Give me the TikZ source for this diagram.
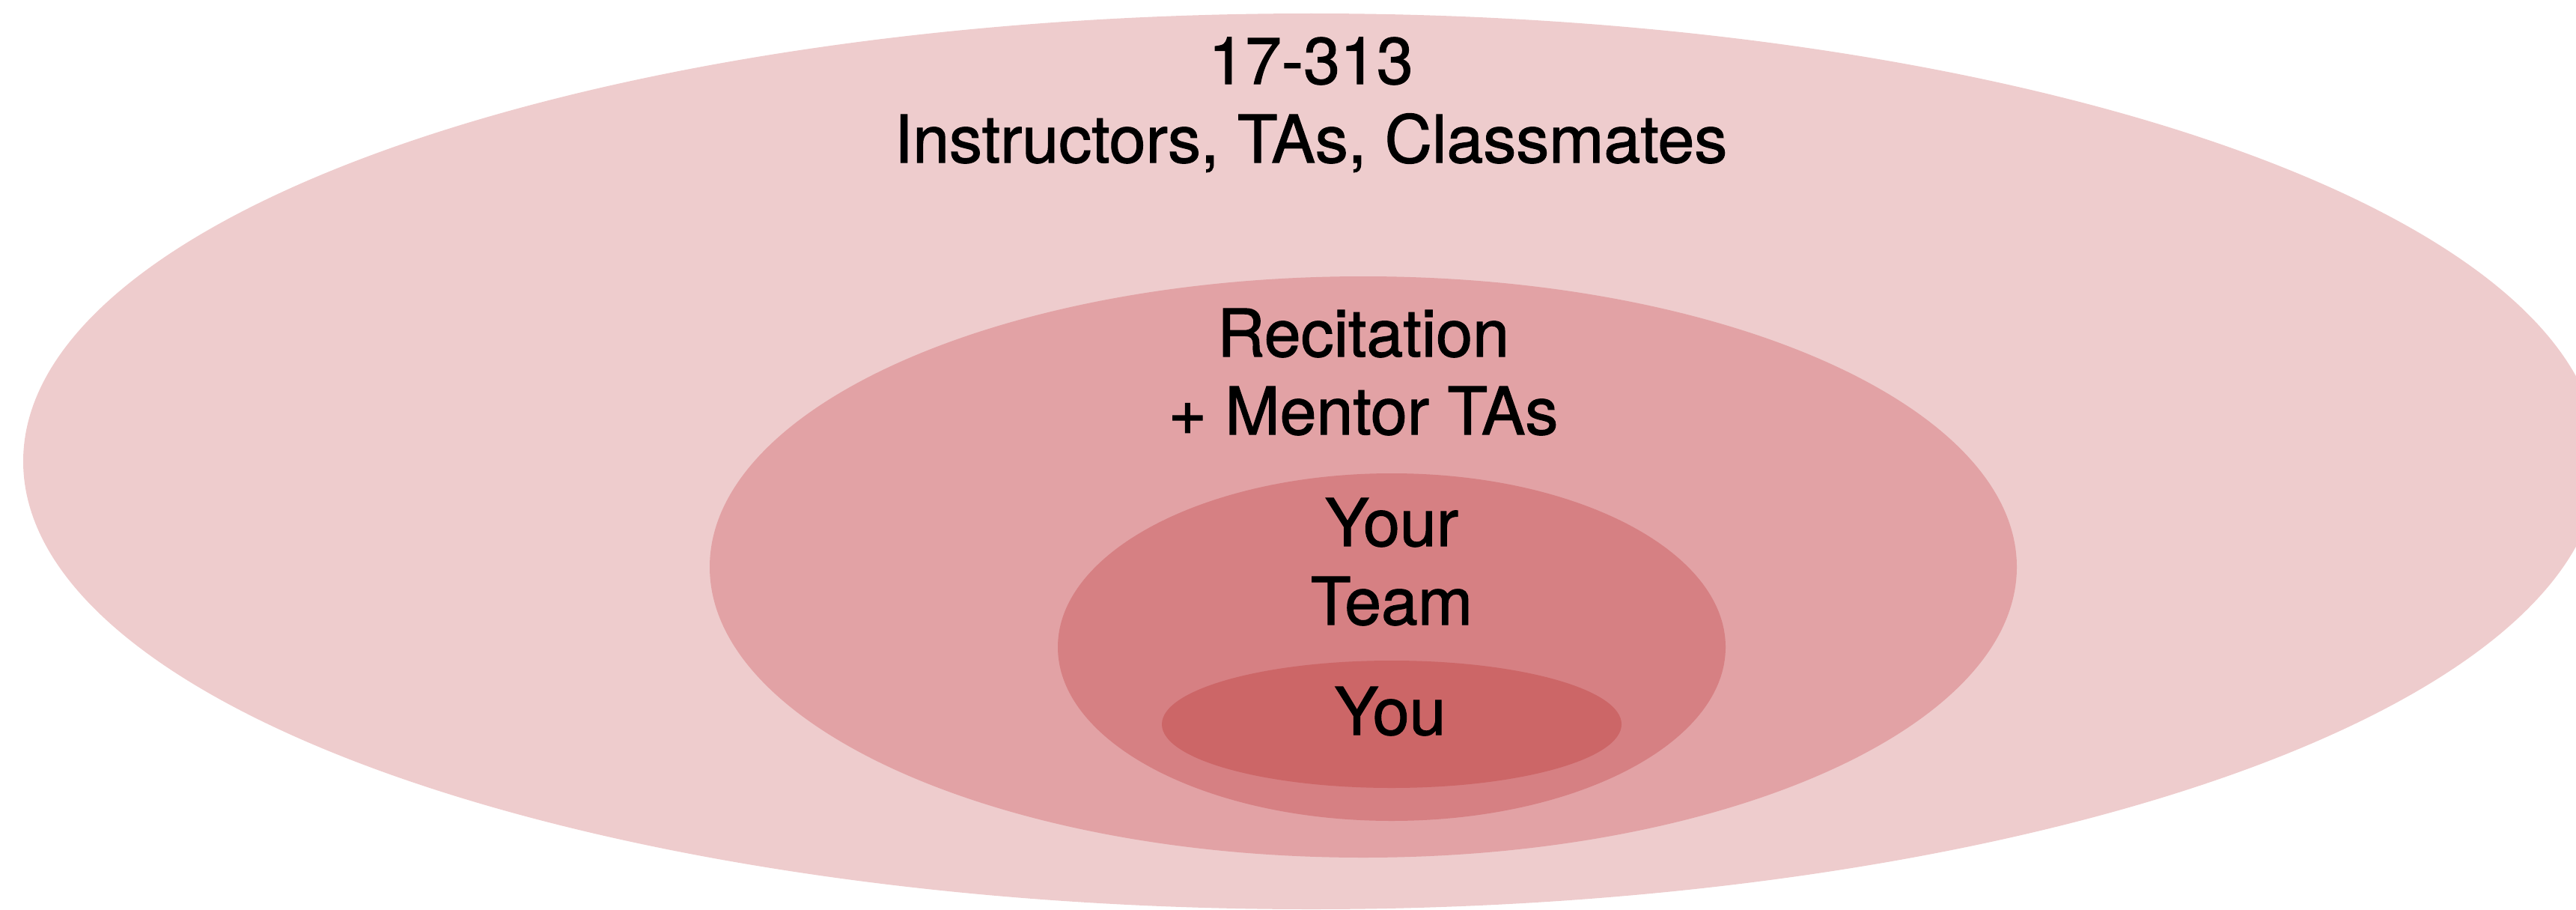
\documentclass[tikz,border=0pt]{standalone}
\usepackage{fontspec}
\setmainfont{TeX Gyre Heros}
\newfontfamily\lblfont[FakeBold=1.3]{TeX Gyre Heros}
\usetikzlibrary{shapes.geometric}
\definecolor{classpink}{RGB}{238,204,205}
\definecolor{recpink}{RGB}{226,162,165}
\definecolor{teampink}{RGB}{214,128,131}
\definecolor{youred}{RGB}{204,102,103}
\begin{document}
\begin{tikzpicture}

\tikzstyle{ring} = [ellipse, draw=none, inner sep=0pt, outer sep=0pt]
\tikzstyle{lbl} = [anchor=base, inner sep=0pt, font=\lblfont\fontsize{25}{30}\selectfont]

\useasboundingbox (0,0) rectangle (34.41,12.14);
\clip (0,0) rectangle (34.41,12.14);

\node[ring, fill=classpink, minimum width=34.41cm, minimum height=11.96cm] (cls) at (17.515,5.98) {};
\node[ring, fill=recpink, minimum width=17.46cm, minimum height=7.76cm] (rec) at (18.21,4.57) {};
\node[ring, fill=teampink, minimum width=8.92cm, minimum height=4.64cm] (team) at (18.59,3.50) {};
\node[ring, fill=youred, minimum width=6.14cm, minimum height=1.70cm] (you) at (18.59,2.47) {};

\node[lbl] (num) at (17.51,11.02) {17-313};
\node[lbl] (ins) at (17.51,9.97) {Instructors, TAs, Classmates};

\node[lbl] (reci) at (18.21,7.38) {Recitation};
\node[lbl] (ment) at (18.21,6.34) {+ Mentor TAs};

\node[lbl] (your) at (18.59,4.85) {Your};
\node[lbl] (tm) at (18.59,3.80) {Team};

\node[lbl] (me) at (18.57,2.33) {You};
\end{tikzpicture}
\end{document}
